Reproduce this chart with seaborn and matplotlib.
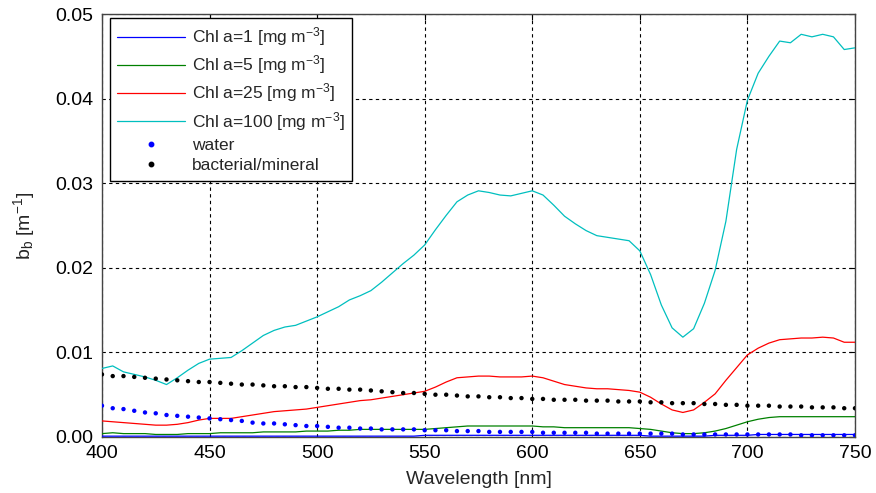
import numpy as np
import pandas as pd
import matplotlib
matplotlib.use("Agg")
import matplotlib.pyplot as plt
import seaborn as sns

# Wavelength grid [nm]
wavelength = list(range(400, 755, 5))

# Particulate backscattering for four chlorophyll concentrations [m^-1]
chl_1 = [0.0001] * 30 + [0.0002] * 21 + [0.0001] * 6 + [0.0002] * 4 + [0.0003] * 10

chl_5 = [0.0004, 0.0005, 0.0004, 0.0004, 0.0004, 0.0003, 0.0003, 0.0003, 0.0004, 0.0004,
         0.0004, 0.0005, 0.0005, 0.0005, 0.0005, 0.0006, 0.0006, 0.0006, 0.0006, 0.0007,
         0.0007, 0.0007, 0.0008, 0.0008, 0.0009, 0.0009, 0.0009, 0.0009, 0.0009, 0.0009,
         0.0009, 0.0010, 0.0011, 0.0012, 0.0013, 0.0013, 0.0013, 0.0013, 0.0013, 0.0013,
         0.0013, 0.0012, 0.0012, 0.0011, 0.0011, 0.0011, 0.0011, 0.0011, 0.0011, 0.0011,
         0.0010, 0.0009, 0.0007, 0.0005, 0.0004, 0.0004, 0.0005, 0.0007, 0.0010, 0.0014,
         0.0018, 0.0021, 0.0023, 0.0024, 0.0024, 0.0024, 0.0024, 0.0024, 0.0024, 0.0024,
         0.0024]

chl_25 = [0.0019, 0.0018, 0.0017, 0.0016, 0.0015, 0.0014, 0.0014, 0.0015, 0.0017, 0.0020,
          0.0022, 0.0022, 0.0022, 0.0024, 0.0026, 0.0028, 0.0030, 0.0031, 0.0032, 0.0033,
          0.0035, 0.0037, 0.0039, 0.0041, 0.0043, 0.0044, 0.0046, 0.0048, 0.0050, 0.0052,
          0.0054, 0.0059, 0.0065, 0.0070, 0.0071, 0.0072, 0.0072, 0.0071, 0.0071, 0.0071,
          0.0072, 0.0070, 0.0066, 0.0062, 0.0060, 0.0058, 0.0057, 0.0057, 0.0056, 0.0055,
          0.0053, 0.0047, 0.0039, 0.0032, 0.0029, 0.0032, 0.0041, 0.0051, 0.0067, 0.0082,
          0.0097, 0.0105, 0.0111, 0.0115, 0.0116, 0.0117, 0.0117, 0.0118, 0.0117, 0.0112,
          0.0112]

chl_100 = [0.0081, 0.0084, 0.0077, 0.0074, 0.0071, 0.0067, 0.0062, 0.0070, 0.0079, 0.0087,
           0.0092, 0.0093, 0.0094, 0.0102, 0.0111, 0.0120, 0.0126, 0.0130, 0.0132, 0.0137,
           0.0142, 0.0148, 0.0154, 0.0162, 0.0167, 0.0173, 0.0183, 0.0194, 0.0205, 0.0215,
           0.0227, 0.0245, 0.0262, 0.0278, 0.0286, 0.0291, 0.0289, 0.0286, 0.0285, 0.0288,
           0.0291, 0.0286, 0.0274, 0.0261, 0.0252, 0.0244, 0.0238, 0.0236, 0.0234, 0.0232,
           0.0220, 0.0192, 0.0156, 0.0129, 0.0118, 0.0128, 0.0158, 0.0197, 0.0255, 0.0340,
           0.0398, 0.0430, 0.0450, 0.0468, 0.0466, 0.0476, 0.0473, 0.0476, 0.0473, 0.0458,
           0.0460]

# Pure water and bacterial/mineral backscattering [m^-1]
water = [0.0037, 0.0034, 0.0033, 0.0031, 0.0029, 0.0028, 0.0026, 0.0025, 0.0024, 0.0023,
         0.0022, 0.0021, 0.0020, 0.0019, 0.0017, 0.0016, 0.0016, 0.0015, 0.0014, 0.0013,
         0.0013, 0.0012, 0.0011, 0.0011, 0.0010, 0.0010, 0.0009, 0.0009, 0.0009, 0.0009,
         0.0008, 0.0008, 0.0008, 0.0007, 0.0007, 0.0007, 0.0006, 0.0006, 0.0006, 0.0006,
         0.0006, 0.0005, 0.0005, 0.0005, 0.0005, 0.0005, 0.0004, 0.0004, 0.0004, 0.0004,
         0.0004, 0.0004, 0.0004, 0.0004, 0.0003, 0.0003, 0.0003, 0.0003, 0.0003, 0.0003,
         0.0003, 0.0003, 0.0003, 0.0003, 0.0003, 0.0002, 0.0002, 0.0002, 0.0002, 0.0002,
         0.0002]

bact_mineral = [0.0074, 0.0072, 0.0072, 0.0071, 0.0070, 0.0069, 0.0068, 0.0067, 0.0066, 0.0065,
                0.0065, 0.0064, 0.0063, 0.0062, 0.0062, 0.0061, 0.0060, 0.0060, 0.0059, 0.0059,
                0.0058, 0.0057, 0.0057, 0.0056, 0.0056, 0.0055, 0.0054, 0.0053, 0.0052, 0.0052,
                0.0051, 0.0050, 0.0050, 0.0049, 0.0048, 0.0048, 0.0047, 0.0047, 0.0046, 0.0046,
                0.0045, 0.0045, 0.0044, 0.0044, 0.0044, 0.0043, 0.0043, 0.0043, 0.0042, 0.0042,
                0.0042, 0.0041, 0.0041, 0.0040, 0.0040, 0.0040, 0.0039, 0.0039, 0.0038, 0.0038,
                0.0037, 0.0037, 0.0037, 0.0036, 0.0036, 0.0036, 0.0035, 0.0035, 0.0035, 0.0034,
                0.0034]

line_labels = [r"Chl a=1 [mg m$^{\mathregular{-3}}$]", r"Chl a=5 [mg m$^{\mathregular{-3}}$]",
               r"Chl a=25 [mg m$^{\mathregular{-3}}$]", r"Chl a=100 [mg m$^{\mathregular{-3}}$]"]
line_series = [chl_1, chl_5, chl_25, chl_100]
line_colors = ["#0000ff", "#008000", "#ff0000", "#00bfbf"]
dot_labels = ["water", "bacterial/mineral"]
dot_series = [water, bact_mineral]
dot_colors = ["#0000ff", "#000000"]

x_ticks = [400, 450, 500, 550, 600, 650, 700, 750]
y_ticks = [0.00, 0.01, 0.02, 0.03, 0.04, 0.05]

sns.set_style("white")
plt.rcParams["font.family"] = ["Liberation Sans", "DejaVu Sans"]
plt.rcParams["mathtext.fontset"] = "custom"
plt.rcParams["mathtext.rm"] = "Liberation Sans"
plt.rcParams["mathtext.it"] = "Liberation Sans:italic"

lines_df = pd.concat(
    [pd.DataFrame({"wavelength": wavelength, "bb": s, "series": lab})
     for s, lab in zip(line_series, line_labels)], ignore_index=True)
dots_df = pd.concat(
    [pd.DataFrame({"wavelength": wavelength, "bb": s, "series": lab})
     for s, lab in zip(dot_series, dot_labels)], ignore_index=True)

fig = plt.figure(figsize=(8.76, 4.93), dpi=100)
ax = fig.add_axes([0.1164, 0.1136, 0.8596, 0.858])

sns.lineplot(data=lines_df, x="wavelength", y="bb", hue="series",
             palette=dict(zip(line_labels, line_colors)), linewidth=0.9,
             ax=ax, legend=False, zorder=3)
sns.scatterplot(data=dots_df, x="wavelength", y="bb", hue="series",
                palette=dict(zip(dot_labels, dot_colors)), s=10, linewidth=0,
                ax=ax, legend=False, zorder=4)

ax.set_xlim(400, 750)
ax.set_ylim(0, 0.05)
ax.set_xticks(x_ticks)
ax.set_yticks(y_ticks)
ax.set_yticklabels([f"{v:.2f}" for v in y_ticks])
ax.tick_params(direction="in", length=4, labelsize=14, colors="black",
               top=True, right=True, pad=6)
ax.grid(True, color="black", linestyle=(0, (3, 3)), linewidth=0.8)
for sp in ax.spines.values():
    sp.set_color("#444444")
    sp.set_linewidth(1.0)

ax.set_xlabel("Wavelength [nm]", fontsize=14, labelpad=6)
ax.set_ylabel(r"b$_{\mathregular{b}}$ [m$^{\mathregular{-1}}$]", fontsize=14, labelpad=13)

handles = []
for lab, c in zip(line_labels, line_colors):
    handles.append(plt.Line2D([], [], color=c, lw=0.9, label=lab))
for lab, c in zip(dot_labels, dot_colors):
    handles.append(plt.Line2D([], [], color=c, ls="none", marker="o", ms=3.2, label=lab))
leg = ax.legend(handles=handles, loc="upper left", bbox_to_anchor=(0.0106, 0.9905),
                borderaxespad=0, fontsize=12.5, handlelength=3.9, handletextpad=0.4,
                labelspacing=0.3, borderpad=0.42, fancybox=False, framealpha=1,
                edgecolor="black")
leg.get_frame().set_linewidth(1.0)

fig.savefig("out.png", dpi=100)
